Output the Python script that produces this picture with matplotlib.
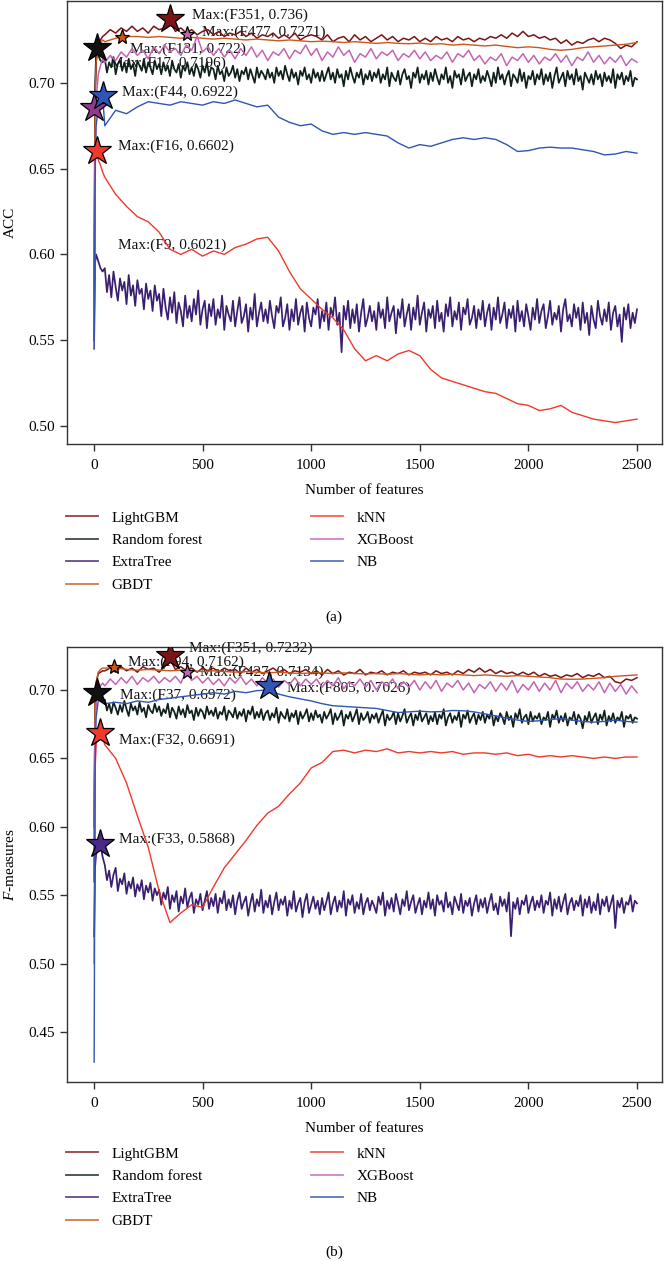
import matplotlib
matplotlib.use("Agg")
import matplotlib.pyplot as plt
from matplotlib.lines import Line2D
from matplotlib.ticker import FormatStrFormatter

plt.rcParams['font.family'] = ['Liberation Serif', 'DejaVu Serif']
plt.rcParams['mathtext.fontset'] = 'custom'
plt.rcParams['mathtext.it'] = 'Liberation Serif:italic'
plt.rcParams['mathtext.rm'] = 'Liberation Serif'

# ---------------- data ----------------
MODELS = ["LightGBM", "Random forest", "ExtraTree", "GBDT", "kNN", "XGBoost", "NB"]
COLORS = ["#7b1515", "#0f1f1c", "#3a1f6e", "#c8581c", "#f0392b", "#c365b5", "#2f55b5"]

X_EARLY = [1, 5, 10, 20, 30, 40]
X_DENSE = X_EARLY + list(range(50, 2501, 10))  # sampled feature counts (very noisy curves)
X_FINE = X_EARLY + list(range(50, 2501, 25))   # sampled feature counts (noisy curves)
X_MED = X_EARLY + list(range(50, 2501, 50))    # sampled feature counts (smooth curves)

# ---- panel (a): ACC ----
ACC_LGBM = [0.560, 0.690, 0.712, 0.722, 0.725, 0.727,
            0.728, 0.731, 0.729, 0.732, 0.730, 0.733, 0.730, 0.732, 0.729, 0.733, 0.731, 0.732, 0.7355, 0.730, 0.732, 0.729, 0.731, 0.728, 0.730,
            0.731, 0.728, 0.730, 0.727, 0.729, 0.728, 0.730, 0.727, 0.729, 0.726, 0.728, 0.727, 0.729, 0.726, 0.728, 0.726, 0.729, 0.725, 0.727, 0.728,
            0.727, 0.725, 0.728, 0.724, 0.726, 0.727, 0.724, 0.728, 0.725, 0.727, 0.724, 0.726, 0.728, 0.725, 0.727, 0.724, 0.726, 0.725, 0.727, 0.724,
            0.726, 0.724, 0.727, 0.725, 0.726, 0.724, 0.727, 0.725, 0.726, 0.724, 0.726, 0.725, 0.727, 0.726, 0.728, 0.726, 0.729, 0.727, 0.730, 0.727,
            0.728, 0.726, 0.727, 0.725, 0.726, 0.723, 0.725, 0.722, 0.724, 0.723, 0.725, 0.726, 0.724, 0.726, 0.725, 0.723, 0.720, 0.722, 0.721, 0.724]
# values x1000
ACC_RF_K = [560, 695, 718, 716, 713, 712,
            714, 706, 712, 709, 715, 705, 711, 713, 707, 712, 706, 714, 708, 711, 704, 713, 710, 707, 714, 706, 712, 709, 705, 713, 708,
            711, 705, 712, 707, 710, 704, 713, 708, 706, 711, 703, 710, 707, 712, 705, 709, 704, 711, 708, 703, 710, 706, 712, 704, 709,
            708, 702, 710, 705, 707, 701, 709, 704, 706, 710, 703, 708, 701, 707, 705, 709, 702, 708, 704, 700, 709, 703, 707, 705, 702,
            708, 703, 706, 700, 709, 704, 707, 702, 710, 705, 701, 708, 703, 706, 699, 707, 704, 709, 702, 705, 700, 708, 703, 706, 701,
            707, 701, 705, 709, 702, 706, 700, 708, 703, 705, 698, 707, 702, 709, 704, 700, 706, 703, 708, 699, 705, 702, 707, 701, 706,
            703, 708, 700, 705, 702, 709, 698, 706, 703, 701, 707, 699, 705, 708, 702, 704, 697, 706, 703, 709, 700, 705, 702, 707, 699,
            706, 701, 708, 703, 699, 705, 702, 709, 700, 704, 697, 707, 703, 705, 699, 708, 701, 704, 706, 698, 705, 702, 708, 700, 704,
            701, 707, 703, 698, 706, 700, 709, 702, 705, 699, 704, 707, 698, 705, 703, 700, 708, 701, 706, 697, 704, 702, 707, 699, 705,
            702, 708, 699, 705, 701, 706, 697, 704, 709, 700, 703, 706, 698, 707, 702, 705, 699, 708, 701, 704, 696, 706, 703, 700, 705,
            699, 707, 702, 705, 698, 706, 701, 704, 700, 708, 697, 705, 702, 706, 699, 704, 701, 707, 698, 703, 702]
ACC_ET_K = [550, 595, 600, 596, 592, 590,
            592, 578, 588, 575, 590, 581, 573, 586, 579, 584, 571, 588, 576, 582, 570, 585, 577, 580, 568, 583, 574, 579, 567, 582, 573,
            577, 564, 580, 569, 562, 575, 566, 578, 560, 572, 567, 558, 576, 563, 570, 561, 574, 565, 579, 559, 568, 573, 557, 571, 564,
            574, 559, 568, 563, 576, 556, 570, 565, 561, 573, 558, 567, 575, 560, 564, 571, 555, 569, 562, 577, 558, 566, 572, 561, 568,
            560, 573, 564, 557, 570, 566, 575, 558, 563, 571, 556, 568, 561, 574, 559, 566, 570, 555, 572, 563, 558, 569, 565, 574, 557,
            567, 561, 572, 556, 569, 564, 575, 559, 566, 543, 570, 562, 573, 557, 568, 560, 571, 555, 566, 574, 558, 563, 570, 561, 567,
            556, 572, 563, 568, 557, 575, 561, 566, 570, 554, 568, 563, 574, 558, 565, 571, 556, 569, 562, 576, 559, 566, 572, 555, 568,
            563, 570, 557, 573, 561, 566, 555, 571, 564, 575, 558, 567, 562, 572, 556, 569, 565, 574, 559, 563, 570, 557, 568, 562, 573,
            558, 566, 571, 556, 569, 562, 575, 560, 565, 572, 557, 568, 563, 570, 555, 573, 561, 567, 558, 571, 564, 556, 569, 562, 574,
            560, 567, 571, 557, 564, 573, 559, 566, 562, 570, 555, 568, 574, 561, 565, 558, 571, 563, 569, 556, 572, 560, 566, 553, 570,
            562, 557, 573, 564, 559, 568, 561, 572, 556, 566, 570, 558, 565, 549, 569, 562, 571, 557, 566, 560, 568]
ACC_XGB = [0.560, 0.650, 0.690, 0.705, 0.710, 0.714,
           0.712, 0.716, 0.713, 0.718, 0.715, 0.720, 0.716, 0.719, 0.714, 0.721, 0.717, 0.722, 0.718, 0.720, 0.716, 0.722, 0.719, 0.7271, 0.718,
           0.721, 0.716, 0.720, 0.715, 0.719, 0.714, 0.720, 0.716, 0.721, 0.715, 0.719, 0.713, 0.718, 0.716, 0.720, 0.714, 0.719, 0.717, 0.722, 0.716,
           0.720, 0.713, 0.718, 0.715, 0.721, 0.716, 0.719, 0.712, 0.717, 0.715, 0.720, 0.714, 0.718, 0.716, 0.719, 0.713, 0.717, 0.715, 0.719, 0.714,
           0.718, 0.713, 0.716, 0.714, 0.718, 0.712, 0.717, 0.715, 0.719, 0.713, 0.716, 0.711, 0.715, 0.713, 0.717, 0.710, 0.715, 0.713, 0.717, 0.712,
           0.716, 0.711, 0.715, 0.713, 0.717, 0.712, 0.716, 0.710, 0.715, 0.713, 0.718, 0.712, 0.716, 0.711, 0.715, 0.712, 0.716, 0.710, 0.714, 0.712]
ACC_GBDT = [0.560, 0.690, 0.712, 0.720, 0.723, 0.725,
            0.724, 0.726, 0.727, 0.727, 0.7265, 0.727, 0.7265, 0.726, 0.7265, 0.726, 0.7255, 0.726, 0.7255, 0.725, 0.7255, 0.725, 0.7245, 0.725, 0.7245, 0.724,
            0.7243, 0.724, 0.7235, 0.724, 0.7235, 0.723, 0.7235, 0.723, 0.7228, 0.7232,
            0.7225, 0.7228, 0.722, 0.7225, 0.722, 0.7215, 0.722, 0.7212, 0.7205, 0.721,
            0.7205, 0.7195, 0.719, 0.7195, 0.7205, 0.721, 0.7215, 0.722, 0.7225, 0.7235]
ACC_KNN = [0.545, 0.655, 0.660, 0.655, 0.652, 0.648,
           0.645, 0.635, 0.628, 0.622, 0.619, 0.613, 0.603, 0.600, 0.603, 0.599, 0.602, 0.600, 0.604, 0.606, 0.609, 0.610, 0.602, 0.590, 0.580, 0.574,
           0.568, 0.563, 0.556, 0.545, 0.538, 0.541, 0.538, 0.542, 0.544, 0.541,
           0.533, 0.528, 0.526, 0.524, 0.522, 0.520, 0.519, 0.516, 0.513, 0.512,
           0.509, 0.510, 0.512, 0.508, 0.506, 0.504, 0.503, 0.502, 0.503, 0.504]
ACC_NB = [0.545, 0.640, 0.675, 0.685, 0.690, 0.692,
          0.675, 0.684, 0.682, 0.686, 0.689, 0.688, 0.687, 0.689, 0.688, 0.687, 0.689, 0.688, 0.690, 0.688, 0.686, 0.687, 0.680, 0.677, 0.675, 0.676,
          0.672, 0.670, 0.671, 0.670, 0.671, 0.670, 0.669, 0.665, 0.662, 0.664,
          0.663, 0.665, 0.667, 0.668, 0.667, 0.668, 0.667, 0.664, 0.660, 0.6605,
          0.662, 0.6625, 0.662, 0.662, 0.661, 0.660, 0.658, 0.6585, 0.660, 0.659]

# ---- panel (b): F-measures ----
F_LGBM = [0.600, 0.690, 0.705, 0.712, 0.713, 0.714,
          0.714, 0.716, 0.713, 0.717, 0.714, 0.716, 0.713, 0.717, 0.715, 0.716, 0.713, 0.717, 0.7225, 0.715, 0.717, 0.714, 0.716, 0.713, 0.716,
          0.714, 0.716, 0.713, 0.716, 0.714, 0.715, 0.712, 0.716, 0.713, 0.715, 0.712, 0.714, 0.716, 0.713, 0.715, 0.712, 0.714, 0.713, 0.715, 0.712,
          0.714, 0.711, 0.715, 0.712, 0.714, 0.711, 0.713, 0.712, 0.715, 0.711, 0.713, 0.712, 0.714, 0.711, 0.713, 0.712, 0.714, 0.711, 0.713, 0.712,
          0.713, 0.711, 0.714, 0.712, 0.713, 0.711, 0.714, 0.712, 0.715, 0.713, 0.716, 0.713, 0.715, 0.712, 0.714, 0.712, 0.713, 0.711, 0.713, 0.711,
          0.713, 0.710, 0.712, 0.710, 0.711, 0.709, 0.711, 0.710, 0.712, 0.709, 0.711, 0.710, 0.712, 0.709, 0.710, 0.706, 0.705, 0.708, 0.707, 0.709]
F_RF_K = [560, 680, 695, 697, 698, 692,
          693, 685, 690, 683, 691, 687, 682, 689, 684, 692, 686, 681, 690, 685, 688, 682, 691, 684, 687, 680, 689, 685, 683, 690, 684,
          688, 681, 686, 683, 690, 680, 687, 684, 679, 688, 682, 686, 680, 689, 683, 685, 678, 687, 681, 686, 684, 679, 688, 682, 685,
          681, 687, 679, 684, 682, 688, 678, 685, 683, 680, 687, 679, 684, 681, 686, 677, 685, 682, 688, 679, 684, 680, 686, 678, 683,
          685, 678, 683, 680, 687, 676, 684, 681, 679, 686, 677, 683, 680, 685, 675, 684, 679, 682, 686, 677, 683, 678, 685, 680, 682,
          676, 684, 679, 682, 686, 675, 683, 678, 681, 685, 674, 682, 679, 684, 677, 681, 686, 675, 683, 678, 680, 684, 676, 682, 679,
          683, 676, 681, 685, 674, 682, 678, 680, 684, 675, 683, 677, 681, 686, 676, 680, 683, 674, 682, 678, 685, 677, 680, 683, 675,
          681, 677, 684, 675, 682, 679, 686, 674, 680, 683, 676, 681, 678, 684, 673, 682, 679, 685, 676, 680, 683, 675, 682, 678, 684,
          676, 682, 679, 685, 674, 681, 677, 683, 680, 675, 684, 678, 681, 673, 683, 679, 686, 676, 680, 682, 675, 684, 677, 681, 679,
          683, 675, 680, 678, 684, 673, 682, 679, 685, 676, 681, 677, 683, 674, 680, 678, 684, 675, 682, 679, 672, 681, 677, 684, 676,
          680, 683, 675, 682, 678, 685, 674, 681, 677, 683, 676, 680, 678, 684, 673, 681, 679, 682, 676, 680, 679]
F_ET_K = [520, 570, 580, 584, 587, 578,
          572, 561, 568, 556, 565, 570, 553, 562, 558, 566, 551, 560, 555, 563, 549, 558, 553, 561, 547, 557, 552, 559, 546, 555, 550,
          554, 543, 552, 547, 556, 540, 550, 545, 553, 538, 549, 544, 555, 541, 548, 552, 537, 547, 543, 551, 539, 546, 553, 540, 548,
          542, 551, 537, 548, 544, 553, 539, 547, 541, 550, 536, 546, 552, 540, 545, 549, 535, 544, 551, 538, 547, 542, 554, 537, 546,
          541, 550, 536, 545, 552, 539, 547, 543, 549, 535, 546, 540, 553, 538, 544, 548, 534, 545, 551, 537, 543, 549, 540, 546, 536,
          548, 539, 545, 552, 536, 544, 549, 538, 546, 541, 553, 535, 547, 543, 550, 537, 545, 540, 551, 536, 544, 548, 539, 546, 542,
          537, 549, 543, 552, 535, 546, 540, 548, 538, 551, 544, 536, 547, 542, 553, 539, 545, 550, 537, 543, 548, 536, 546, 541, 552,
          540, 547, 535, 550, 543, 546, 538, 552, 541, 545, 536, 549, 544, 539, 551, 537, 546, 542, 548, 535, 544, 550, 538, 547, 541,
          548, 537, 545, 551, 539, 544, 536, 549, 542, 547, 538, 552, 520, 545, 540, 548, 536, 546, 543, 550, 537, 544, 549, 539, 546,
          541, 550, 537, 546, 543, 552, 535, 547, 540, 549, 538, 545, 551, 536, 544, 548, 539, 546, 542, 550, 535, 547, 541, 549, 537,
          545, 539, 551, 536, 547, 542, 549, 538, 544, 550, 526, 546, 541, 548, 537, 545, 543, 550, 538, 546, 544]
F_XGB = [0.560, 0.670, 0.690, 0.700, 0.703, 0.705,
         0.703, 0.708, 0.704, 0.709, 0.705, 0.710, 0.704, 0.709, 0.706, 0.710, 0.705, 0.709, 0.706, 0.710, 0.705, 0.7134, 0.707, 0.710, 0.705,
         0.709, 0.704, 0.708, 0.703, 0.709, 0.705, 0.710, 0.704, 0.708, 0.703, 0.709, 0.705, 0.708, 0.702, 0.707, 0.704, 0.709, 0.703, 0.708, 0.704,
         0.708, 0.702, 0.707, 0.703, 0.709, 0.701, 0.706, 0.703, 0.708, 0.702, 0.707, 0.700, 0.706, 0.703, 0.708, 0.701, 0.706, 0.702, 0.707, 0.700,
         0.706, 0.701, 0.707, 0.699, 0.705, 0.702, 0.707, 0.700, 0.705, 0.698, 0.704, 0.701, 0.706, 0.699, 0.705, 0.700, 0.707, 0.698, 0.704, 0.700,
         0.706, 0.699, 0.705, 0.700, 0.707, 0.698, 0.705, 0.701, 0.706, 0.699, 0.704, 0.700, 0.706, 0.698, 0.705, 0.699, 0.704, 0.697, 0.703, 0.698]
F_GBDT = [0.600, 0.690, 0.706, 0.713, 0.715, 0.716,
          0.716, 0.7162, 0.715, 0.7145, 0.715, 0.7145, 0.714, 0.7145, 0.714, 0.7135, 0.714, 0.7135, 0.713, 0.7135, 0.713, 0.7125, 0.713, 0.7125, 0.712, 0.7125,
          0.7125, 0.712, 0.7125, 0.712, 0.7118, 0.712, 0.7115, 0.712, 0.7115, 0.711,
          0.7115, 0.711, 0.7115, 0.711, 0.7105, 0.711, 0.7105, 0.710, 0.7105, 0.710,
          0.7095, 0.709, 0.708, 0.7078, 0.708, 0.7085, 0.709, 0.710, 0.7105, 0.711]
F_KNN = [0.500, 0.640, 0.660, 0.666, 0.669, 0.666,
         0.660, 0.650, 0.632, 0.608, 0.585, 0.553, 0.530, 0.537, 0.543, 0.541, 0.556, 0.570, 0.580, 0.590, 0.601, 0.610, 0.615, 0.624, 0.632, 0.643,
         0.647, 0.655, 0.656, 0.654, 0.656, 0.655, 0.657, 0.654, 0.655, 0.654,
         0.655, 0.654, 0.655, 0.653, 0.654, 0.654, 0.653, 0.654, 0.652, 0.653,
         0.651, 0.652, 0.651, 0.652, 0.651, 0.650, 0.651, 0.650, 0.651, 0.651]
F_NB = [0.428, 0.640, 0.680, 0.692, 0.696, 0.693,
        0.690, 0.691, 0.690, 0.692, 0.691, 0.693, 0.694, 0.695, 0.696, 0.697, 0.698, 0.697, 0.699, 0.698, 0.6995, 0.700, 0.697, 0.695, 0.6935, 0.692,
        0.690, 0.6885, 0.688, 0.6875, 0.687, 0.6865, 0.685, 0.6835, 0.684, 0.6845,
        0.684, 0.6842, 0.685, 0.6848, 0.684, 0.6825, 0.681, 0.6795, 0.678, 0.677,
        0.6775, 0.6785, 0.679, 0.678, 0.677, 0.6765, 0.677, 0.678, 0.677, 0.6765]

# maxima markers and their labels
ACC_MAX_X = [351, 428, 131, 14, 2, 44, 16]
ACC_MAX_Y = [0.737, 0.7285, 0.727, 0.7203, 0.6855, 0.6922, 0.6602]
ACC_MAX_LABELS = ["Max:(F351, 0.736)", "Max:(F477, 0.7271)", "Max:(F131, 0.722)", "Max:(F17, 0.7196)",
                  "Max:(F9, 0.6021)", "Max:(F44, 0.6922)", "Max:(F16, 0.6602)"]
ACC_TEXT_X = [451, 497, 166, 74, 110, 129, 110]
ACC_TEXT_Y = [0.7395, 0.7297, 0.7198, 0.7116, 0.6052, 0.6948, 0.6628]

F_MAX_X = [351, 94, 427, 805, 16, 28, 28]
F_MAX_Y = [0.7245, 0.7165, 0.713, 0.7026, 0.698, 0.6686, 0.5875]
F_MAX_LABELS = ["Max:(F351, 0.7232)", "Max:(F94, 0.7162)", "Max:(F427, 0.7134)", "Max:(F805, 0.7026)",
                "Max:(F37, 0.6972)", "Max:(F32, 0.6691)", "Max:(F33, 0.5868)"]
F_TEXT_X = [437, 157, 488, 889, 120, 115, 115]
F_TEXT_Y = [0.7307, 0.7204, 0.7131, 0.7015, 0.6964, 0.6635, 0.5912]

# ---------------- style ----------------
ACC_STAR_COLORS = ["#7b1515", "#c365b5", "#c8581c", "#111111", "#8e3a8c", "#2f55b5", "#f0392b"]
ACC_STAR_SIZES = [21, 11, 11, 21, 21, 21, 21]
F_STAR_COLORS = ["#7b1515", "#c8581c", "#c365b5", "#2f55b5", "#111111", "#f0392b", "#4a2a84"]
F_STAR_SIZES = [21, 11, 11, 21, 21, 21, 21]
LINE_WIDTHS = [1.1, 1.25, 1.25, 1.0, 1.0, 1.1, 1.0]

FS = 11
SPINE = "#333333"


def k(vals):
    return [v / 1000 for v in vals]


fig = plt.figure(figsize=(6.68, 12.61), dpi=100)
ax1 = fig.add_axes([0.1003, 0.6479, 0.8907, 0.3513])
ax2 = fig.add_axes([0.1003, 0.1420, 0.8907, 0.3449])


def draw(ax, series, mx, my, labels, tx, ty, scol, ssz):
    for (x, y), name, c, lw in zip(series, MODELS, COLORS, LINE_WIDTHS):
        ax.plot(x, y, color=c, lw=lw, label=name, zorder=2)
    for i in range(len(mx)):
        ax.plot(mx[i], my[i], marker='*', ms=ssz[i], mfc=scol[i], mec='black',
                mew=0.9, ls='none', zorder=6)
        ax.text(tx[i], ty[i], labels[i], ha='left', va='center', fontsize=FS,
                color='#111111', zorder=1)
    ax.set_xlim(-124, 2615)
    ax.set_xticks([0, 500, 1000, 1500, 2000, 2500])
    ax.yaxis.set_major_formatter(FormatStrFormatter('%.2f'))
    for s in ax.spines.values():
        s.set_color(SPINE)
        s.set_linewidth(1.0)
    ax.tick_params(direction='out', length=5, width=1, color=SPINE,
                   labelsize=FS, top=False, right=False)
    ax.tick_params(axis='x', pad=5.5)
    ax.tick_params(axis='y', pad=4)
    ax.set_xlabel("Number of features", fontsize=FS, labelpad=9)


series_a = [(X_FINE, ACC_LGBM), (X_DENSE, k(ACC_RF_K)), (X_DENSE, k(ACC_ET_K)), (X_MED, ACC_GBDT),
            (X_MED, ACC_KNN), (X_FINE, ACC_XGB), (X_MED, ACC_NB)]
series_b = [(X_FINE, F_LGBM), (X_DENSE, k(F_RF_K)), (X_DENSE, k(F_ET_K)), (X_MED, F_GBDT),
            (X_MED, F_KNN), (X_FINE, F_XGB), (X_MED, F_NB)]

draw(ax1, series_a, ACC_MAX_X, ACC_MAX_Y, ACC_MAX_LABELS, ACC_TEXT_X, ACC_TEXT_Y,
     ACC_STAR_COLORS, ACC_STAR_SIZES)
draw(ax2, series_b, F_MAX_X, F_MAX_Y, F_MAX_LABELS, F_TEXT_X, F_TEXT_Y,
     F_STAR_COLORS, F_STAR_SIZES)

ax1.set_ylim(0.4895, 0.7477)
ax1.set_yticks([0.50, 0.55, 0.60, 0.65, 0.70])
ax1.set_ylabel("ACC", fontsize=FS, labelpad=8)
ax2.set_ylim(0.4135, 0.7314)
ax2.set_yticks([0.45, 0.50, 0.55, 0.60, 0.65, 0.70])
ax2.set_ylabel("$F$-measures", fontsize=FS, labelpad=8)

handles = [Line2D([0], [0], color=c, lw=1.3, alpha=0.8) for c in COLORS]
legend_kw = dict(ncol=2, frameon=False, fontsize=FS, handlelength=2.1,
                 handletextpad=0.9, columnspacing=7.1, labelspacing=0.57,
                 borderpad=0, borderaxespad=0, loc='upper left')
fig.legend(handles, MODELS, bbox_to_anchor=(66 / 668, 1 - 511 / 1261), **legend_kw)
fig.legend(handles, MODELS, bbox_to_anchor=(66 / 668, 1 - 1147 / 1261), **legend_kw)

fig.text(0.5, 1 - 617 / 1261, "(a)", ha='center', va='center', fontsize=FS)
fig.text(0.5, 1 - 1252 / 1261, "(b)", ha='center', va='center', fontsize=FS)

fig.savefig("out.png", dpi=100)
